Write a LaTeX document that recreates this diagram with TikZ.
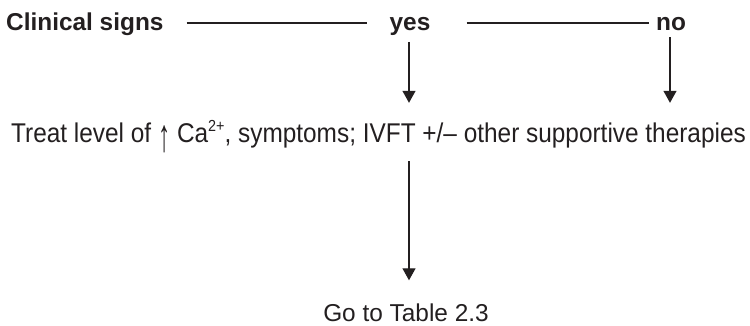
\documentclass[tikz,border=0pt]{standalone}
\usepackage{fontspec}
\setmainfont{Liberation Sans}
\newfontfamily\narrowfont{Liberation Sans}[FakeStretch=0.9]
\usetikzlibrary{arrows.meta}
\definecolor{ink}{HTML}{231F20}
\begin{document}
\begin{tikzpicture}[x=1pt,y=-1pt,
  txt/.style={inner sep=0pt,text=ink,font=\fontsize{24.4}{29}\selectfont},
  bold/.style={txt,font=\fontsize{24.4}{29}\selectfont\bfseries},
  narrow/.style={txt,font=\narrowfont\fontsize{27.1}{32}\selectfont},
  rule/.style={draw=ink,line width=1.3pt},
  arr/.style={rule,-{Triangle[width=13pt,length=12pt]}}]
\useasboundingbox (0,0) rectangle (750,326);
\node[bold,anchor=base west] (cs) at (6,30.7) {Clinical signs};
\node[bold,anchor=base] (yes) at (410,30.7) {yes};
\node[bold,anchor=base] (no) at (671,30.7) {no};
\node[narrow,anchor=base,text height=18pt,text depth=6pt] (treat) at (378.5,143)
  {Treat level of \raisebox{-9pt}{\scalebox{1}[1.7]{↑}} Ca\raisebox{0.42em}{\fontsize{16}{16}\selectfont 2+}, symptoms; IVFT +/– other supportive therapies};
\node[txt,anchor=base,text height=18pt,text depth=6pt] (go) at (406,321.5) {Go to Table 2.3};
\draw[rule,shorten <=23pt,shorten >=22pt] ([yshift=7.7pt]cs.base east) -- ([yshift=7.7pt]yes.base west);
\draw[rule,shorten <=36pt,shorten >=7pt] ([yshift=7.7pt]yes.base east) -- ([yshift=7.7pt]no.base west);
\draw[arr,shorten <=6pt,shorten >=22pt] ([xshift=-1pt]yes.south) -- ([xshift=-1pt]yes.south |- treat.north);
\draw[arr,shorten <=6pt,shorten >=22pt] ([xshift=-1pt]no.south) -- ([xshift=-1pt]no.south |- treat.north);
\draw[arr,shorten <=12pt,shorten >=23pt] ([xshift=-1pt]yes.south |- treat.south) -- ([xshift=-1pt]yes.south |- go.north);
\end{tikzpicture}
\end{document}
